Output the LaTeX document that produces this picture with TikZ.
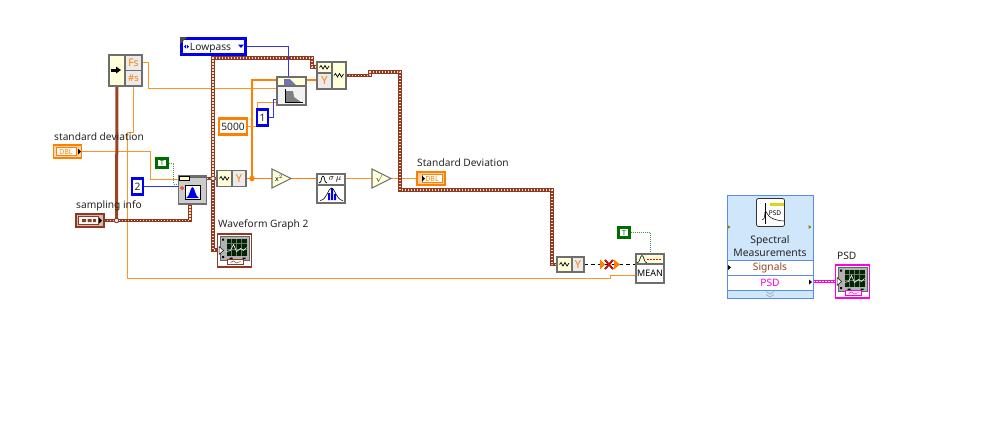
\documentclass[tikz,border=0pt]{standalone}
\usepackage{fontspec}
\setmainfont{Noto Sans}
\usetikzlibrary{calc,backgrounds}
\definecolor{dblorange}{HTML}{FF8000}
\definecolor{enumblue}{HTML}{0000F0}
\definecolor{clusterbrown}{HTML}{8C3A24}
\definecolor{boolgreen}{HTML}{006B00}
\definecolor{psdpink}{HTML}{FF00E0}
\definecolor{vifill}{HTML}{FFFFD9}
\definecolor{viedge}{HTML}{6E6E6E}
\definecolor{expressblue}{HTML}{CFE6FB}
\definecolor{expressedge}{HTML}{5A8CF0}
\tikzset{
	lbl/.style={anchor=west, inner sep=0pt, font=\fontsize{10.2}{10}\selectfont, text=black!85},
	blk/.style={draw=viedge, line width=1.1pt, fill=vifill, inner sep=0pt, outer sep=0pt},
	konst/.style={draw=#1, line width=2.2pt, fill=white, inner sep=0pt, outer sep=0pt, font=\fontsize{10.2}{10}\selectfont, text=black!85},
	term/.style={draw=#1, line width=1.6pt, fill=#1!35, inner sep=0pt, outer sep=0pt, minimum width=28pt, minimum height=13pt},
	termin/.style={draw=#1, line width=0.6pt, fill=white, inner sep=0pt, outer sep=0pt, minimum width=20pt, minimum height=7.5pt, text=#1, font=\fontsize{7}{7}\selectfont\bfseries},
	booltrue/.style={draw=boolgreen, line width=1.2pt, fill=boolgreen, inner sep=0pt, outer sep=0pt, minimum width=13pt, minimum height=11pt},
	truetxt/.style={fill=white, inner sep=0pt, minimum width=8pt, minimum height=6.5pt, text=boolgreen, font=\fontsize{7}{7}\selectfont\bfseries},
	thinwire/.style={draw=dblorange!85, line width=1pt},
	thickwire/.style={draw=dblorange, line width=1.7pt},
	bluewire/.style={draw=enumblue!80, line width=1pt},
	dotwire/.style={draw=boolgreen!70, line width=1pt, dash pattern=on 1pt off 1pt},
	clusterwire/.style={draw=clusterbrown, line width=3.2pt, postaction={draw=white!75!orange, line width=1.1pt, dash pattern=on 1.2pt off 1.8pt}},
	pinkwire/.style={draw=psdpink, line width=3.2pt, postaction={draw=white, line width=1.1pt, dash pattern=on 1.2pt off 1.8pt}},
	junc/.style={circle, draw=clusterbrown, line width=0.9pt, fill=white, inner sep=0pt, minimum size=4.5pt},
}
% small waveform glyph
\def\wavy[#1](#2,#3){\draw[#1, line width=0.7pt] (#2-5,#3) -- ++(1.5,-2) -- ++(2,3.5) -- ++(2,-3.5) -- ++(2,3.5) -- ++(2,-3);}
% waveform graph terminal
\def\graphicon[#1](#2)(#3,#4){
	\node[draw=#1, line width=1.3pt, fill=white, inner sep=0pt, outer sep=0pt, minimum width=34pt, minimum height=33pt] (#2) at (#3+17,#4+17) {};
	\begin{scope}[shift={(#3,#4)}]
		\draw[black!60, fill=black!30, line width=0.6pt] (2.5,2.5) rectangle (31.5,27);
		\fill[black!85!green] (9,5) rectangle (29,22);
		\draw[black!55, line width=0.3pt] (9,10) -- (29,10) (9,16) -- (29,16) (14,5) -- (14,22) (19,5) -- (19,22) (24,5) -- (24,22);
		\draw[white, line width=0.6pt] (9,18) -- (13,17) -- (16,11) -- (19,18) -- (23,15) -- (26,17) -- (29,14);
		\draw[black, line width=0.5pt, fill=white] (1.5,13) -- (6,17) -- (1.5,21) -- cycle;
		\draw[#1, line width=0.8pt, fill=white] (10,26) rectangle (26,31);
		\draw[#1, line width=0.5pt] (13,29) -- (16,27.5) -- (19,29.5) -- (23,28);
		\fill[black] (4.5,5) rectangle (6.5,7) (4.5,22.5) rectangle (6.5,24.5) (12,24) rectangle (15,25.5) (25,24) rectangle (28,25.5);
	\end{scope}
}
\begin{document}
\begin{tikzpicture}[x=1pt,y=-1pt]
	\useasboundingbox (0,0) rectangle (999,421);
	%%%%% BLOCKS %%%%%

	% unbundle by name
	\node[blk, minimum width=16pt, minimum height=31pt] (unbundle) at (117,70.5) {};
	\fill[black] (111,68.5) rectangle (117,71.5);
	\fill[black] (116,66.5) -- (121,70) -- (116,73.5) -- cycle;
	\node[draw=viedge, line width=1.1pt, fill=white!92!black, inner sep=0pt, outer sep=0pt, minimum width=17pt, minimum height=15.5pt, text=dblorange, font=\fontsize{10.5}{10}\selectfont] (fsrow) at (133.5,62.75) {Fs};
	\node[draw=viedge, line width=1.1pt, fill=white!92!black, inner sep=0pt, outer sep=0pt, minimum width=17pt, minimum height=15.5pt, text=dblorange, font=\fontsize{9.5}{10}\selectfont\bfseries] (nsrow) at (133.5,78.25) {\#s};

	% controls
	\node[lbl] (stdlbl) at (54,137) {standard deviation};
	\node[term=dblorange] (stdterm) at (67.5,151.5) {};
	\node[termin=dblorange] (stdtxt) at (66,151.5) {DBL};
	\fill[black] (78,148.5) -- (81,151.5) -- (78,154.5) -- cycle;
	\node[lbl] (samplbl) at (76,206) {sampling info};
	\node[term=clusterbrown] (sampterm) at (90,220.5) {};
	\node[termin=clusterbrown] (samptxt) at (88.5,220.5) {};
	\fill[clusterbrown] (82,219) rectangle (86,222) (87.5,219) rectangle (91.5,222) (93,219) rectangle (96,222);
	\fill[black] (99,217.5) -- (102,220.5) -- (99,223.5) -- cycle;

	% constants
	\node[booltrue] (truea) at (162,163) {};
	\node[truetxt] (trueatxt) at (162,163) {T};
	\node[konst=enumblue, minimum width=11pt, minimum height=16pt] (twok) at (137.5,186.5) {2};
	\node[konst=dblorange, minimum width=28pt, minimum height=16pt] (fivek) at (233,126.5) {5000};
	\node[konst=enumblue, minimum width=11pt, minimum height=16pt] (onek) at (262.5,117.5) {1};
	\node[konst=enumblue, minimum width=64pt, minimum height=16pt, text depth=0pt] (lowk) at (213.5,46.5) {\hspace{-6pt}Lowpass};
	\fill[black!70] (180,37) -- (187,37) -- (180,44) -- cycle;
	\fill[enumblue] (184,46.5) -- (186,44.5) -- (186,48.5) -- cycle (189,46.5) -- (187,44.5) -- (187,48.5) -- cycle;
	\fill[enumblue] (238,44.5) -- (244,44.5) -- (241,48) -- cycle;

	% gaussian noise
	\node[blk, fill=black!20, minimum width=28pt, minimum height=28pt] (gauss) at (192.5,190) {};
	\draw[black!60, line width=1pt] (178,177) -- (207,177);
	\draw[black, fill=white!80!yellow, line width=0.6pt] (179,176) rectangle (189,180);
	\draw[black, fill=white, line width=0.6pt] (185,185) rectangle (200,199);
	\fill[enumblue] (186,198) .. controls (190,197) and (190,187) .. (192.5,187) .. controls (195,187) and (195,197) .. (199,198) -- cycle;
	\draw[red, line width=0.7pt] (182,188) circle (1.5);

	% waveform blocks
	\node[blk, minimum width=15pt, minimum height=16pt] (wavea) at (224.5,178.5) {};
	\wavy[black](224.5,178.5)
	\node[blk, minimum width=14pt, minimum height=16pt, fill=white!92!black, text=dblorange, font=\fontsize{11}{10}\selectfont] (ya) at (239,178.5) {Y};
	\node[blk, minimum width=15pt, minimum height=11pt] (waveb) at (324.5,67.5) {};
	\wavy[black](324.5,67.5)
	\node[blk, minimum width=15pt, minimum height=16pt, fill=white!92!black, text=dblorange, font=\fontsize{11}{10}\selectfont] (yb) at (324.5,81) {Y};
	\node[blk, minimum width=14pt, minimum height=27pt] (wavec) at (339,75.5) {};
	\wavy[black](339,75.5)
	\node[blk, minimum width=15pt, minimum height=15pt] (waved) at (564.5,264.5) {};
	\wavy[black](564.5,264.5)
	\node[blk, minimum width=12pt, minimum height=15pt, fill=white!92!black, text=dblorange, font=\fontsize{11}{10}\selectfont] (yd) at (578,264.5) {Y};

	% filter
	\node[blk, minimum width=29pt, minimum height=9pt] (filtertop) at (291.5,81.5) {};
	\fill[enumblue!45!black!55] (284,85) -- (284,79) -- (290,79) -- (296,85) -- cycle;
	\draw[black, line width=0.5pt] (284,85) -- (299,85);
	\node[blk, fill=white!95!black, minimum width=29pt, minimum height=19pt] (filterbot) at (291.5,95.5) {};
	\fill[black!50] (285,102) -- (285,91) -- (293,91) -- (294,97) -- (301,102) -- cycle;
	\draw[black, line width=0.6pt] (285,89) -- (285,102) -- (303,102);

	% triangles and stats
	\coordinate (xsqin) at (272,178.5);
	\coordinate (xsqout) at (291,178.5);
	\draw[viedge, fill=vifill, line width=1.1pt] (272,169) -- (xsqout) -- (272,188) -- cycle;
	\node[inner sep=0pt, font=\fontsize{7}{7}\selectfont\bfseries] (xsqtxt) at (279,178.5) {x$^2$};
	\coordinate (rootin) at (372,178.5);
	\coordinate (rootout) at (391,178.5);
	\draw[viedge, fill=vifill, line width=1.1pt] (372,169) -- (rootout) -- (372,188) -- cycle;
	\node[inner sep=0pt, font=\fontsize{7}{7}\selectfont\bfseries] (roottxt) at (379,178.5) {$\surd$};
	\node[blk, fill=white, minimum width=28pt, minimum height=11pt, font=\fontsize{9}{8}\selectfont] (statstop) at (331,179.5) {\hspace{8pt}$\sigma\,\mu$};
	\draw[black, line width=0.7pt] (319,183) .. controls (322,183) and (321,176) .. (323,176) .. controls (325,176) and (324,183) .. (327,183);
	\node[blk, fill=white, minimum width=28pt, minimum height=18pt] (statsbot) at (331,194) {};
	\fill[enumblue] (328,200) rectangle (330,193) (331,200) rectangle (333,188) (334,200) rectangle (336,194);
	\draw[black, line width=0.6pt] (320,200.5) .. controls (327,200) and (328,188) .. (331.5,188) .. controls (335,188) and (336,200) .. (343,200.5);

	% indicator
	\node[lbl] (stdoutlbl) at (417,163) {Standard Deviation};
	\node[term=dblorange] (stdoutterm) at (431,178.5) {};
	\node[termin=dblorange] (stdouttxt) at (432,178.5) {DBL};
	\fill[black] (422,175.5) -- (425,178.5) -- (422,181.5) -- cycle;

	% mean
	\node[booltrue] (trueb) at (624,232.5) {};
	\node[truetxt] (truebtxt) at (624,232.5) {T};
	\node[blk, minimum width=28pt, minimum height=10pt] (meantop) at (650,259) {};
	\draw[black, line width=0.6pt] (637,263) .. controls (640,263) and (640,255.5) .. (642,255.5) .. controls (644,255.5) and (644,263) .. (647,263);
	\draw[red, line width=0.9pt, dash pattern=on 1.5pt off 1.5pt] (647,259) -- (662,259);
	\node[blk, fill=white, minimum width=28pt, minimum height=19pt, font=\fontsize{9}{9}\selectfont] (meanbot) at (650,273.5) {MEAN};

	% graphs
	\node[lbl] (graphlbl) at (218,225) {Waveform Graph 2};
	\graphicon[clusterbrown](graphb)(217.5,233.5)
	\node[lbl] (psdlbl) at (837,256) {PSD};
	\graphicon[psdpink](graphp)(835.5,264.5)

	% spectral measurements
	\node[draw=expressedge, line width=1pt, fill=expressblue, inner sep=0pt, outer sep=0pt, minimum width=86pt, minimum height=103pt] (spec) at (770,246.5) {};
	\node[draw=black!80, line width=0.8pt, fill=white, rounded corners=2pt, inner sep=0pt, minimum width=28pt, minimum height=28pt] (specicon) at (770.5,212.5) {};
	\fill[yellow!85!black] (770,202.5) rectangle (784,206);
	\draw[black, line width=0.7pt] (765,203) -- (765,224);
	\draw[black, line width=0.5pt] (762,220) .. controls (766,220) and (764,211) .. (765.5,211) .. controls (767,211) and (766,220) .. (784,221);
	\node[inner sep=0pt, font=\fontsize{6.5}{6}\selectfont\bfseries] (specicontxt) at (775,213) {PSD};
	\node[inner sep=0pt, align=center, font=\fontsize{10.4}{13.8}\selectfont, text=black!85] (spectxt) at (770,246) {Spectral\\Measurements};
	\node[draw=expressedge, line width=0.8pt, fill=white, inner sep=0pt, minimum width=86pt, minimum height=15pt, text=clusterbrown!90!orange, font=\fontsize{10.2}{10}\selectfont] (sigrow) at (770,267.5) {Signals};
	\node[draw=expressedge, line width=0.8pt, fill=white, inner sep=0pt, minimum width=86pt, minimum height=15pt, text=psdpink, font=\fontsize{10.2}{10}\selectfont] (psdrow) at (770,282.5) {PSD};
	\draw[black!35, line width=0.6pt] (766,291.5) -- (770,294) -- (774,291.5) (766,294.5) -- (770,297) -- (774,294.5);
	\fill[olive] (727.5,225) -- (730.5,227) -- (727.5,229) -- cycle (808.5,225) -- (811.5,227) -- (808.5,229) -- cycle;
	\fill[black] (728,265) -- (731,267.5) -- (728,270) -- cycle (809,279.5) -- (812,282) -- (809,284.5) -- cycle;

	%%%%% WIRES %%%%%
	\coordinate (gaussdata) at (178,179);
	\coordinate (gaussT) at (178,184);
	\coordinate (gausssd) at (178,186.5);
	\coordinate (gausserr) at (190,204);
	\coordinate (gaussout) at (207,178.5);
	\coordinate (filterA) at (277,80);
	\coordinate (filterB) at (277,88);
	\coordinate (filterC) at (277,99);
	\coordinate (filterD) at (277,102);
	\coordinate (filterE) at (288,77);
	\coordinate (meanin) at (636,275);
	\coordinate (meandash) at (636,264.5);
	\coordinate (meanT) at (650,254);
	\coordinate (graphin) at (219,250);
	\coordinate (ybin) at (317,67);
	\coordinate (nsout) at (133,86);
	\coordinate (unbout) at (117,86);

	\begin{scope}[on background layer]
		\draw[thinwire] (stdterm.east) -- ++(69,0) |- (gaussdata);
		\draw[dotwire] (truea.east) -- ++(5,0) |- (gaussT);
		\draw[bluewire] (twok.east) -- (gausssd);
		\draw[thinwire] (fsrow.east) -- ++(6,0) |- (filterB);
		\draw[thinwire] (nsout) -- ++(0,46) -- ++(-6,0) -- ++(0,146) -- ++(483,0) -- ++(0,-3) -- (meanin);

		\draw[draw=clusterbrown!85!orange, line width=3pt] (unbout) -- (116.5,221);
		\draw[clusterwire] (sampterm.east) -| (gausserr);
		\node[junc] (sampjoin) at (116.5,220.5) {};

		\draw[clusterwire] (gaussout) -- (wavea.west);
		\draw[clusterwire] (213,178.5) |- (312,58) |- (ybin);
		\draw[clusterwire] (213,178.5) |- (graphin);
		\node[junc] (wavejoin) at (213,178.5) {};

		\draw[thickwire] (ya.east) -- (xsqin);
		\draw[thickwire] (252,178.5) |- (filterA);
		\draw[thickwire] (filtertop.east |- filterA) -- (yb.east |- filterA);
		\node[circle, fill=dblorange, inner sep=0pt, minimum size=5.5pt] (yjoin) at (252,178.5) {};
		\draw[thinwire] (fivek.east) -- ++(10,0) |- (filterD);
		\draw[bluewire] (onek.east) -- ++(5,0) |- (filterC);
		\draw[bluewire] (lowk.east) -| (filterE);

		\draw[thickwire] (xsqout) -- (statstop.west |- xsqout);
		\draw[thinwire] (statstop.east |- rootin) -- (rootin);
		\draw[thinwire] (rootout) -- (stdoutterm.west);
		\draw[clusterwire] (wavec.east) -- ++(24,0) |- (400,72) |- (552,190) |- (waved.west);

		\draw[black, line width=1.2pt, dash pattern=on 4pt off 3pt] (yd.east) -- (meandash);
		\draw[dotwire] (trueb.east) -| (meanT);
		\draw[pinkwire] (psdrow.east) ++(0,-1) coordinate (psdout) -- (graphp.west |- psdout);
	\end{scope}

	% broken wire marker
	\coordinate (brk) at (609,264);
	\fill[dblorange] (600,259.5) -- (605,264.5) -- (600,269.5) -- cycle;
	\fill[dblorange] (614,259.5) -- (620,264.5) -- (614,269.5) -- cycle;
	\draw[black!70!red, line width=1.8pt] (605,260) -- (613,269) (613,260) -- (605,269);
	\draw[red, line width=1pt] (605,260) -- (613,269) (613,260) -- (605,269);
\end{tikzpicture}
\end{document}
